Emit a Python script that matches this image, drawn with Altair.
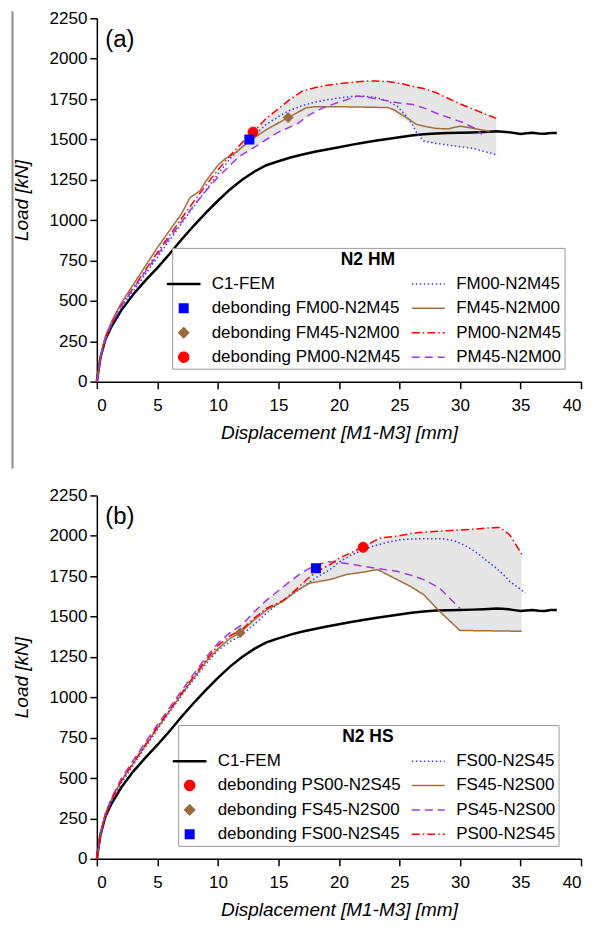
import altair as alt
import pandas as pd

FONT = "Liberation Sans, Arial, sans-serif"

# ---------------- C1-FEM (same numerical curve in both panels) ----------------
fem_d = [0, 0.3, 0.7, 1.2, 2, 3, 4, 5, 6, 7, 8, 9, 10, 11, 12, 13, 14, 15, 16, 17,
         18, 19, 20, 21, 22, 23, 24, 25, 26, 27, 28, 29, 30, 31, 32, 33, 33.5, 34,
         34.5, 35, 35.5, 36, 36.5, 37, 37.5, 38]
fem_L = [0, 150, 260, 340, 440, 540, 625, 705, 790, 880, 965, 1045, 1120, 1190, 1250,
         1300, 1340, 1365, 1388, 1407, 1423, 1438, 1452, 1466, 1479, 1491, 1502, 1513,
         1524, 1532, 1537, 1539, 1541, 1543, 1546, 1550, 1548, 1545, 1540, 1534, 1538,
         1541, 1536, 1535, 1540, 1540]

# ---------------- Panel (a) N2 HM ----------------
a_fm00_d = [0, 0.3, 0.7, 1.2, 2, 3, 4, 5, 6, 7, 8, 9, 10, 11, 12, 12.6, 14, 15, 15.8, 17,
            18, 19, 20, 21, 22, 23, 24, 24.8, 25.5, 26, 26.5, 27, 28, 29, 30, 31, 32, 33]
a_fm00_L = [0, 140, 255, 345, 455, 560, 665, 770, 875, 980, 1085, 1185, 1285, 1380, 1455,
            1500, 1593, 1640, 1675, 1710, 1730, 1745, 1757, 1765, 1768, 1760, 1740, 1706,
            1650, 1600, 1530, 1490, 1475, 1465, 1455, 1445, 1425, 1405]
a_fm45_d = [0, 0.3, 0.7, 1.2, 2, 3, 4, 5, 6, 7, 7.7, 8.5, 9, 10, 10.6, 11.5, 12.6, 14,
            15.8, 17.3, 18, 20, 22, 24, 24.5, 25.6, 26.4, 27, 28, 29, 30, 31, 32, 32.5]
a_fm45_L = [0, 160, 280, 370, 485, 600, 715, 830, 935, 1040, 1140, 1180, 1240, 1340, 1380,
            1420, 1490, 1560, 1635, 1696, 1702, 1702, 1700, 1697, 1686, 1634, 1593, 1582,
            1568, 1565, 1582, 1570, 1556, 1550]
a_pm00_d = [0, 0.3, 0.7, 1.2, 2, 3, 4, 5, 6, 7, 8, 9, 10, 11, 12, 12.9, 14, 15, 16, 17,
            18, 19, 20, 21, 22, 23, 24, 25, 26, 27, 28, 29, 30, 31, 32, 33]
a_pm00_L = [0, 150, 270, 360, 470, 580, 690, 800, 905, 1010, 1115, 1215, 1310, 1400, 1480,
            1545, 1630, 1690, 1750, 1800, 1820, 1835, 1845, 1852, 1860, 1862, 1858, 1848,
            1830, 1815, 1790, 1755, 1720, 1690, 1660, 1630]
a_pm45_d = [0, 0.3, 0.7, 1.2, 2, 3, 4, 5, 6, 7, 8, 9, 10, 11, 11.8, 13, 13.8, 15, 16.5,
            17.5, 18.7, 19.8, 21.5, 22.5, 23.4, 25, 26.1, 27, 28.3, 29.3, 30.3, 31.4, 31.8]
a_pm45_L = [0, 150, 265, 355, 465, 575, 680, 785, 890, 990, 1090, 1180, 1265, 1340, 1397,
            1450, 1490, 1545, 1593, 1650, 1696, 1725, 1768, 1760, 1747, 1725, 1716, 1695,
            1655, 1630, 1603, 1562, 1531]
a_env_d = [11, 12, 13, 14, 15, 16, 17, 18, 19, 20, 21, 22, 23, 24, 25, 26, 27, 28, 29,
           30, 31, 32, 33]
a_env_hi = [1400, 1480, 1550, 1630, 1690, 1750, 1800, 1820, 1835, 1845, 1852, 1860, 1862,
            1858, 1848, 1830, 1815, 1790, 1755, 1720, 1690, 1660, 1630]
a_env_lo = [1340, 1405, 1450, 1500, 1545, 1575, 1620, 1670, 1700, 1702, 1701, 1700, 1698,
            1697, 1640, 1595, 1490, 1475, 1465, 1455, 1445, 1425, 1405]
a_pts_name = ["debonding PM00-N2M45", "debonding FM00-N2M45", "debonding FM45-N2M00"]
a_pts_d = [12.9, 12.6, 15.8]
a_pts_L = [1545, 1500, 1635]

# ---------------- Panel (b) N2 HS ----------------
b_fs00_d = [0, 0.3, 0.7, 1.2, 2, 3, 4, 5, 6, 7, 8, 9, 10, 11, 11.84, 13, 14, 15, 16, 17.3,
            18.2, 19.27, 20.1, 21, 22, 22.8, 24, 25, 26, 27, 28.6, 29.5, 30.3, 31, 31.6,
            32.3, 33, 33.6, 34.1, 34.8, 35.4]
b_fs00_L = [0, 140, 255, 350, 465, 580, 690, 800, 905, 1010, 1110, 1205, 1290, 1345, 1378,
            1450, 1520, 1580, 1630, 1698, 1745, 1791, 1842, 1880, 1914, 1935, 1960, 1975,
            1980, 1982, 1982, 1970, 1945, 1915, 1883, 1840, 1800, 1760, 1718, 1680, 1646]
b_fs45_d = [0, 0.3, 0.7, 1.2, 2, 3, 4, 5, 6, 7, 8, 9, 10, 11, 11.84, 13, 14, 15.4, 16.5,
            17.6, 19.27, 20.6, 22, 23.2, 24, 24.8, 25.9, 27, 28.3, 30, 35.1]
b_fs45_L = [0, 155, 275, 365, 480, 590, 700, 810, 915, 1020, 1120, 1220, 1300, 1365, 1399,
            1480, 1540, 1595, 1660, 1708, 1729, 1760, 1775, 1791, 1760, 1729, 1687, 1636,
            1533, 1414, 1409]
b_ps45_d = [0, 0.3, 0.7, 1.2, 2, 3, 4, 5, 6, 7, 8, 9, 10, 11, 12, 13, 14, 15, 16, 17, 18,
            19, 20, 21, 22, 23, 24.8, 26, 27, 28.3, 29.4, 30]
b_ps45_L = [0, 160, 280, 375, 495, 610, 720, 830, 935, 1040, 1145, 1245, 1335, 1400, 1450,
            1530, 1600, 1660, 1720, 1775, 1815, 1840, 1835, 1825, 1811, 1800, 1780, 1755,
            1729, 1677, 1595, 1550]
b_ps00_d = [0, 0.3, 0.7, 1.2, 2, 3, 4, 5, 6, 7, 8, 9, 10, 11, 12, 13, 14, 15.4, 16.5,
            17.5, 18.2, 19.27, 20, 21, 22, 23.4, 25, 26.1, 27, 28.9, 30, 31.6, 32.5, 33.3,
            34.1, 34.8, 35.2]
b_ps00_L = [0, 150, 270, 365, 480, 595, 705, 815, 920, 1025, 1130, 1230, 1320, 1380, 1420,
            1490, 1550, 1600, 1670, 1740, 1780, 1822, 1860, 1895, 1932, 1986, 2000, 2017,
            2022, 2032, 2036, 2044, 2050, 2052, 2007, 1924, 1873]
b_env_d = [11, 12, 13, 14, 15, 16, 17, 18, 19, 20, 21, 22, 23, 24, 25, 26, 27, 28, 29, 30,
           31, 32, 33, 34, 35, 35.1]
b_env_hi = [1400, 1450, 1530, 1600, 1660, 1720, 1775, 1815, 1840, 1860, 1895, 1932, 1975,
            1993, 2000, 2015, 2022, 2028, 2033, 2036, 2040, 2047, 2052, 2015, 1895, 1880]
b_env_lo = [1345, 1400, 1450, 1520, 1580, 1630, 1685, 1708, 1725, 1745, 1765, 1775, 1788,
            1760, 1722, 1683, 1636, 1555, 1480, 1414, 1410, 1410, 1410, 1410, 1410, 1410]
b_pts_name = ["debonding FS45-N2S00", "debonding FS00-N2S45", "debonding PS00-N2S45"]
b_pts_d = [11.84, 18.1, 22.0]
b_pts_L = [1400, 1799, 1929]

# ---------------- styles ----------------
BLUE_L, BLUE_M = "#3b3bff", "#0000ff"
BROWN_L, BROWN_M = "#a0703c", "#9a6a3a"
RED = "#ff0000"
PURPLE = "#9d3be6"
EXT = "M-3.3,0L-3.3,0M3.3,0L3.3,0"          # invisible extent so all legend symbols share bounds
LINE = "M-3.3,0H3.3"
THICK = "M-3.3,-0.1H3.3V0.1H-3.3Z"
SQUARE = EXT + "M-1,-1H1V1H-1Z"
DIAMOND = EXT + "M-1,0L0,-1L1,0L0,1Z"
CIRCLE = EXT + "M1,0A1,1 0 1,1 -1,0A1,1 0 1,1 1,0Z"
SOLID = [1, 0]
DOT = [1.5, 2.5]
DASHDOT = [8, 3, 1.5, 3]
DASH = [8, 5]


def panel(tag, title, lines, pts, env, legend_entries, legx, legy, frame_line):
    dom = [e[0] for e in legend_entries]
    cols = [e[1] for e in legend_entries]
    shapes = [e[2] for e in legend_entries]
    dashes = [e[3] for e in legend_entries]

    xs = alt.X("d:Q", scale=alt.Scale(domain=[0, 40], nice=False),
               axis=alt.Axis(title="Displacement [M1-M3] [mm]", values=list(range(0, 41, 5)),
                             format="d"))
    ys = alt.Y("L:Q", scale=alt.Scale(domain=[0, 2250], nice=False),
               axis=alt.Axis(title="Load [kN]", values=list(range(0, 2251, 250)), format="d"))

    env_df = pd.DataFrame({"d": env[0], "L": env[1], "L2": env[2]})
    layers = [alt.Chart(env_df).mark_area(color="#e6e6e6", opacity=1).encode(
        x=xs, y=ys, y2="L2:Q")]

    layers.append(alt.Chart(pd.DataFrame({"d": fem_d, "L": fem_L})).mark_line(
        color="black", strokeWidth=2.5).encode(x=xs, y=ys))

    for name, ds, ls in lines:
        i = dom.index(name)
        layers.append(alt.Chart(pd.DataFrame({"d": ds, "L": ls})).mark_line(
            strokeWidth=1.5, color=cols[i], strokeDash=dashes[i]).encode(x=xs, y=ys))

    leg = alt.Legend(title=title, orient="none", legendX=legx, legendY=legy, columns=2,
                     symbolSize=100, symbolStrokeWidth=1.5, symbolOpacity=1,
                     labelFontSize=17, labelFont=FONT, labelColor="black", labelLimit=400,
                     labelOffset=19.5, titleFontSize=17.5, titleFont=FONT, titleColor="black",
                     titleFontWeight="bold", titleAnchor="middle", padding=3,
                     strokeColor="#999999", fillColor="white", rowPadding=6.5, columnPadding=8,
                     titlePadding=7)
    pdf = pd.DataFrame({"series": pts[0], "d": pts[1], "L": pts[2]})
    layers.append(alt.Chart(pdf).mark_point(filled=True, size=100, opacity=1, strokeWidth=1).encode(
        x=xs, y=ys,
        fill=alt.Fill("series:N", scale=alt.Scale(domain=dom, range=cols), legend=leg),
        stroke=alt.Stroke("series:N", scale=alt.Scale(domain=dom, range=cols), legend=leg),
        shape=alt.Shape("series:N", scale=alt.Scale(domain=dom, range=shapes), legend=leg),
        strokeDash=alt.StrokeDash("series:N", scale=alt.Scale(domain=dom, range=dashes), legend=leg),
    ))

    layers.append(alt.Chart(pd.DataFrame({"t": [tag]})).mark_text(
        align="left", baseline="middle", fontSize=24, font=FONT, color="black").encode(
        x=alt.datum(0.7), y=alt.datum(2114), text="t:N"))

    if frame_line:
        layers.append(alt.Chart(pd.DataFrame({"a": [0]})).mark_rule(
            color="#8c8c8c", strokeWidth=2).encode(
            x=alt.value(-84.5), y=alt.value(-7), y2=alt.value(451)))
    return alt.layer(*layers).properties(width=485, height=364)


# legend entries are listed column by column (left column first, then right column)
top = panel(
    "(a)", "N2 HM",
    [("FM00-N2M45", a_fm00_d, a_fm00_L), ("FM45-N2M00", a_fm45_d, a_fm45_L),
     ("PM00-N2M45", a_pm00_d, a_pm00_L), ("PM45-N2M00", a_pm45_d, a_pm45_L)],
    (a_pts_name, a_pts_d, a_pts_L),
    (a_env_d, a_env_hi, a_env_lo),
    [("C1-FEM", "black", THICK, SOLID),
     ("debonding FM00-N2M45", BLUE_M, SQUARE, SOLID),
     ("debonding FM45-N2M00", BROWN_M, DIAMOND, SOLID),
     ("debonding PM00-N2M45", RED, CIRCLE, SOLID),
     ("FM00-N2M45", BLUE_L, LINE, DOT),
     ("FM45-N2M00", BROWN_L, LINE, SOLID),
     ("PM00-N2M45", RED, LINE, DASHDOT),
     ("PM45-N2M00", PURPLE, LINE, DASH)],
    75.5, 230, True)

bottom = panel(
    "(b)", "N2 HS",
    [("FS00-N2S45", b_fs00_d, b_fs00_L), ("FS45-N2S00", b_fs45_d, b_fs45_L),
     ("PS45-N2S00", b_ps45_d, b_ps45_L), ("PS00-N2S45", b_ps00_d, b_ps00_L)],
    (b_pts_name, b_pts_d, b_pts_L),
    (b_env_d, b_env_hi, b_env_lo),
    [("C1-FEM", "black", THICK, SOLID),
     ("debonding PS00-N2S45", RED, CIRCLE, SOLID),
     ("debonding FS45-N2S00", BROWN_M, DIAMOND, SOLID),
     ("debonding FS00-N2S45", BLUE_M, SQUARE, SOLID),
     ("FS00-N2S45", BLUE_L, LINE, DOT),
     ("FS45-N2S00", BROWN_L, LINE, SOLID),
     ("PS45-N2S00", PURPLE, LINE, DASH),
     ("PS00-N2S45", RED, LINE, DASHDOT)],
    81.5, 230, False)

chart = alt.vconcat(top, bottom, spacing=114).resolve_scale(
    fill="independent", stroke="independent",
    shape="independent", strokeDash="independent", x="independent", y="independent"
).resolve_legend(
    fill="independent", stroke="independent", shape="independent", strokeDash="independent"
).properties(
    bounds="flush", padding={"left": 3, "top": 0.5, "right": 2, "bottom": 2}
).configure_view(stroke=None).configure_axis(
    domainColor="black", domainWidth=1.5, tickColor="black", tickWidth=1.5, tickSize=7,
    labelFont=FONT, labelFontSize=17, labelColor="black", labelPadding=3,
    titleFont=FONT, titleFontSize=19, titleFontStyle="italic", titleFontWeight="normal",
    titleColor="black", grid=False
).configure_axisX(labelPadding=9, titlePadding=10).configure_axisY(titlePadding=18)

chart.save("out.html", embed_options={"renderer": "svg", "actions": False})
